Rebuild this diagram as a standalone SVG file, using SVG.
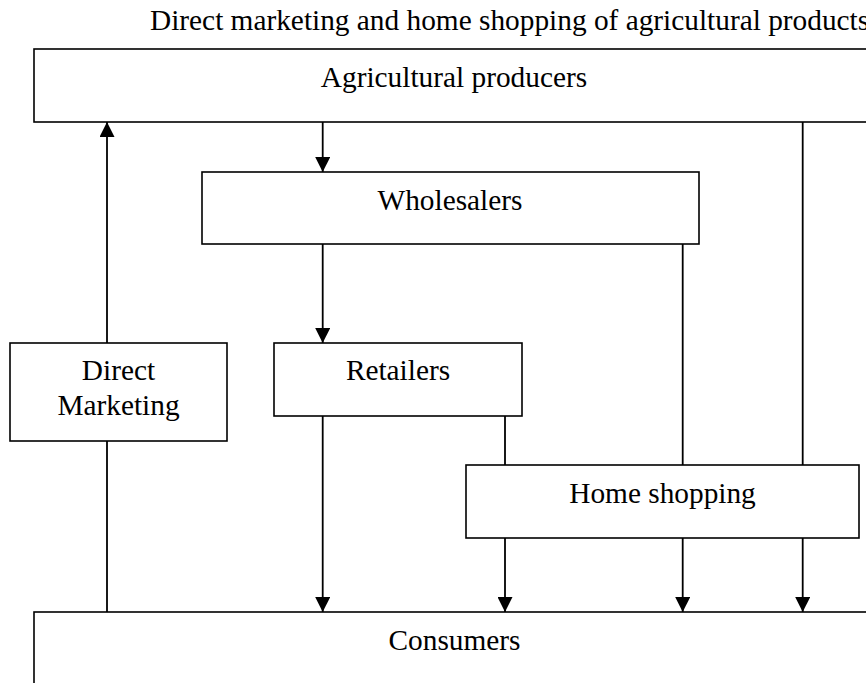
<svg xmlns="http://www.w3.org/2000/svg" width="866" height="683" viewBox="0 0 866 683">
<style>
.box{fill:#fff;stroke:#000;stroke-width:1.6}
.lbl{font-family:"Liberation Serif","Times New Roman",serif;font-size:29.33px;fill:#000;text-anchor:middle}
.title{font-family:"Liberation Serif","Times New Roman",serif;font-size:29.33px;fill:#000}
.con{fill:none;stroke:#000;stroke-width:1.8}
</style>
<defs>
<marker id="arr" viewBox="0 0 15 15" refX="15" refY="7.5" markerWidth="15" markerHeight="15" markerUnits="userSpaceOnUse" orient="auto">
<path d="M0,0 L15,7.5 L0,15 z" fill="#000"/>
</marker>
</defs>
<rect width="866" height="683" fill="#fff"/>
<text class="title" x="150" y="30">Direct marketing and home shopping of agricultural products</text>
<g id="producers">
<rect class="box" x="34" y="49" width="842" height="73"/>
<text class="lbl" x="454" y="87">Agricultural producers</text>
</g>
<g id="wholesalers">
<rect class="box" x="202" y="172" width="497" height="72"/>
<text class="lbl" x="450" y="210">Wholesalers</text>
</g>
<g id="direct-marketing">
<rect class="box" x="10" y="343" width="217" height="98"/>
<text class="lbl" x="118.5" y="380">Direct</text>
<text class="lbl" x="118.5" y="415">Marketing</text>
</g>
<g id="retailers">
<rect class="box" x="274" y="343" width="248" height="73"/>
<text class="lbl" x="398" y="380">Retailers</text>
</g>
<g id="home-shopping">
<rect class="box" x="466" y="465" width="393" height="73"/>
<text class="lbl" x="662.5" y="503">Home shopping</text>
</g>
<g id="consumers">
<rect class="box" x="34" y="612" width="842" height="90"/>
<text class="lbl" x="454.5" y="650">Consumers</text>
</g>
<g id="connectors">
<line class="con" x1="322.7" y1="122" x2="322.7" y2="172" marker-end="url(#arr)"/>
<line class="con" x1="322.7" y1="244" x2="322.7" y2="343" marker-end="url(#arr)"/>
<line class="con" x1="322.7" y1="416" x2="322.7" y2="612" marker-end="url(#arr)"/>
<line class="con" x1="505" y1="416" x2="505" y2="465"/>
<line class="con" x1="505" y1="538" x2="505" y2="612" marker-end="url(#arr)"/>
<line class="con" x1="682.7" y1="244" x2="682.7" y2="465"/>
<line class="con" x1="682.7" y1="538" x2="682.7" y2="612" marker-end="url(#arr)"/>
<line class="con" x1="802.7" y1="122" x2="802.7" y2="465"/>
<line class="con" x1="802.7" y1="538" x2="802.7" y2="612" marker-end="url(#arr)"/>
<line class="con" x1="107" y1="612" x2="107" y2="441"/>
<line class="con" x1="107" y1="343" x2="107" y2="122" marker-end="url(#arr)"/>
</g>
</svg>
